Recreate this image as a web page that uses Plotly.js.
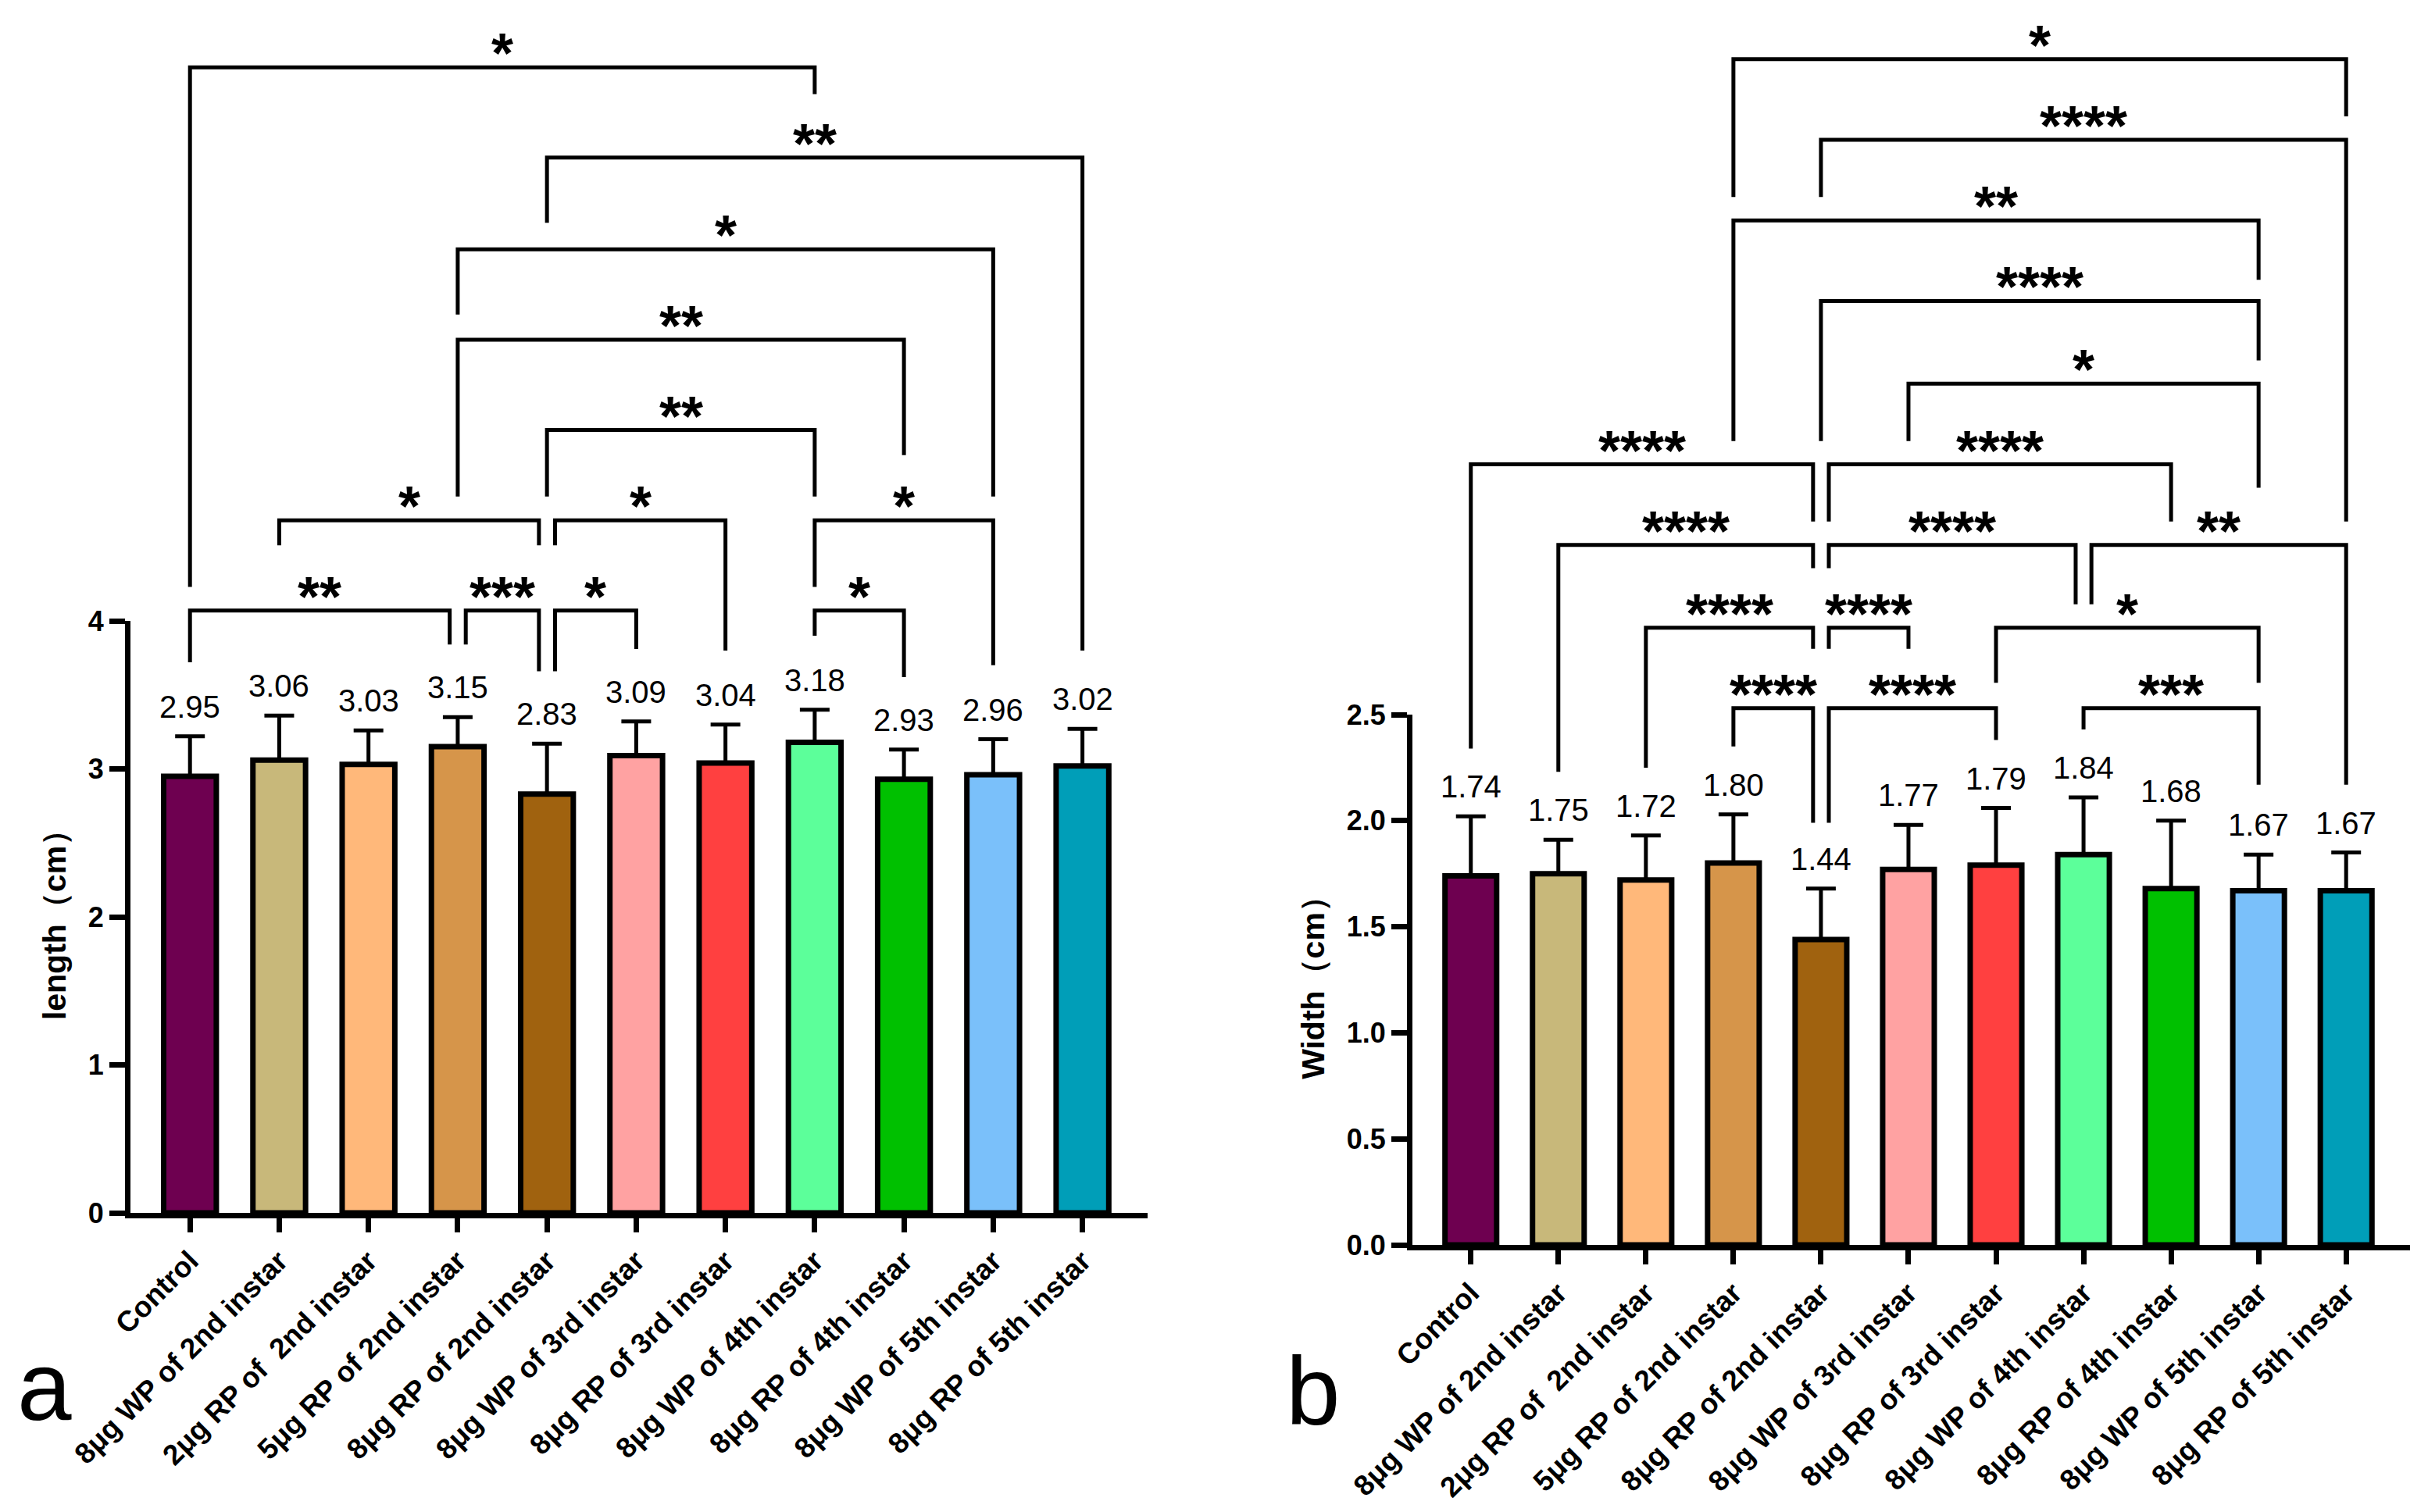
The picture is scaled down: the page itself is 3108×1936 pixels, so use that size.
<!DOCTYPE html>
<html>
<head>
<meta charset="utf-8">
<script src="https://cdn.plot.ly/plotly-3.0.1.min.js"></script>
<style>html,body{margin:0;padding:0;background:#fff;}#chart{width:3108px;height:1936px;}</style>
</head>
<body>
<div id="chart"></div>
<script>
// ---------------- DATA ----------------
const categories = ["Control", "8μg WP of 2nd instar", "2μg RP of\u00a0 2nd instar", "5μg RP of 2nd instar",
  "8μg RP of 2nd instar", "8μg WP of 3rd instar", "8μg RP of 3rd instar", "8μg WP of 4th instar",
  "8μg RP of 4th instar", "8μg WP of 5th instar", "8μg RP of 5th instar"];
const barColors = ["#6e0050", "#c8b87a", "#ffb87a", "#d6954a", "#a0620f", "#ffa2a2",
  "#ff4040", "#5cff9a", "#00c000", "#7ac0fa", "#009eb8"];

const lengthMean = [2.95, 3.06, 3.03, 3.15, 2.83, 3.09, 3.04, 3.18, 2.93, 2.96, 3.02];
const lengthSD   = [0.27, 0.30, 0.23, 0.20, 0.34, 0.23, 0.26, 0.22, 0.20, 0.24, 0.25];
const widthMean  = [1.74, 1.75, 1.72, 1.80, 1.44, 1.77, 1.79, 1.84, 1.68, 1.67, 1.67];
const widthSD    = [0.28, 0.16, 0.21, 0.23, 0.24, 0.21, 0.27, 0.27, 0.32, 0.17, 0.18];

const lengthTicks = [0, 1, 2, 3, 4];
const widthTicks  = [0, 0.5, 1.0, 1.5, 2.0, 2.5];

// significance brackets, panel a (values in length units)
const lengthPairs    = [[0,7],[4,10],[3,9],[3,8],[4,7],[1,4],[4,6],[7,9],[0,3],[3,4],[4,5],[7,8]];
const lengthStars    = ["*","**","*","**","**","*","*","*","**","***","*","*"];
const lengthLineY    = [7.74,7.13,6.51,5.90,5.29,4.68,4.68,4.68,4.07,4.07,4.07,4.07];
const lengthLegLeft  = [4.23,6.69,6.07,4.84,4.84,4.51,4.51,4.23,3.72,3.84,3.66,3.90];
const lengthLegRight = [7.56,3.80,4.84,5.12,4.84,4.51,3.80,3.70,3.84,3.66,3.81,3.62];

// significance brackets, panel b (values in width units)
const widthPairs    = [[3,10],[4,10],[3,9],[4,9],[5,9],[0,4],[4,8],[1,4],[4,7],[7,10],[2,4],[4,5],[6,9],[3,4],[4,6],[7,9]];
const widthStars    = ["*","****","**","****","*","****","****","****","****","**","****","****","*","****","****","***"];
const widthLineY    = [5.59,5.21,4.83,4.45,4.06,3.68,3.68,3.30,3.30,3.30,2.91,2.91,2.91,2.53,2.53,2.53];
const widthLegLeft  = [4.94,4.94,3.79,3.79,3.79,2.34,3.41,2.23,3.19,3.02,2.25,2.81,2.65,2.35,1.99,2.43];
const widthLegRight = [5.32,3.41,4.55,4.17,3.57,3.41,3.41,3.19,3.02,2.17,2.81,2.81,2.65,1.99,2.38,2.17];

// ---------------- LAYOUT GEOMETRY (pixels) ----------------
const W = 3108, H = 1936;
const FONT = "Liberation Sans, Arial, Helvetica, sans-serif";
const geoA = {x0: 167, x1: 1469, yBase: 1553, yTop: 795, top: 4};
const geoB = {x0: 1808, x1: 3085, yBase: 1594, yTop: 915, top: 2.5};
const xRange = [-0.667, 10.73];
const px = v => v / W;
const py = v => 1 - v / H;

const idx = categories.map((c, i) => i);

function bracketGeometry(pairs, lineY, legL, legR) {
  const off = 0.09;
  return pairs.map((p, k) => {
    let a = p[0], b = p[1];
    // shift ends that meet another bracket on the same level
    pairs.forEach((q, m) => {
      if (m === k || lineY[m] !== lineY[k]) return;
      if (q[1] === p[0]) a = p[0] + off;
      if (q[0] === p[1]) b = p[1] - off;
    });
    return {a, b, y: lineY[k], l: legL[k], r: legR[k]};
  });
}

function buildPanel(mean, sd, xa, ya, yb, pairs, stars, lineY, legL, legR) {
  const traces = [];
  traces.push({
    type: "bar", x: idx, y: mean, xaxis: xa, yaxis: ya, width: 0.59,
    marker: {color: barColors, line: {color: "#000", width: 7}},
    error_y: {type: "data", array: sd, arrayminus: sd.map(() => 0), symmetric: false,
      color: "#000", thickness: 5, width: 19},
    hoverinfo: "skip", showlegend: false
  });
  const g = bracketGeometry(pairs, lineY, legL, legR);
  const bx = [], by = [];
  g.forEach(s => { bx.push(s.a, s.a, s.b, s.b, null); by.push(s.l, s.y, s.y, s.r, null); });
  traces.push({
    type: "scatter", mode: "lines", x: bx, y: by, xaxis: xa, yaxis: yb,
    line: {color: "#000", width: 5, shape: "linear"}, cliponaxis: false,
    hoverinfo: "skip", showlegend: false
  });
  const ann = [];
  mean.forEach((m, i) => ann.push({
    x: i, y: m + sd[i], xref: xa, yref: ya, text: m.toFixed(2), showarrow: false,
    yanchor: "bottom", yshift: 14, font: {family: FONT, size: 40, color: "#000"}
  }));
  g.forEach((s, k) => ann.push({
    x: (s.a + s.b) / 2, y: s.y, xref: xa, yref: yb, text: stars[k], showarrow: false,
    yanchor: "bottom", yshift: -24, font: {family: FONT, size: 72, color: "#000", weight: "bold"}
  }));
  return {traces, ann};
}

const A = buildPanel(lengthMean, lengthSD, "x", "y", "y3", lengthPairs, lengthStars, lengthLineY, lengthLegLeft, lengthLegRight);
const B = buildPanel(widthMean, widthSD, "x2", "y2", "y4", widthPairs, widthStars, widthLineY, widthLegLeft, widthLegRight);

const tickFont = {family: FONT, size: 37, color: "#000", weight: "bold"};
function xAxis(geo, anchor) {
  return {
    domain: [px(geo.x0), px(geo.x1)], range: xRange, anchor: anchor, type: "linear",
    tickvals: idx, ticktext: categories, tickangle: -45, tickfont: tickFont,
    showline: true, linecolor: "#000", linewidth: 7, ticks: "outside", ticklen: 18,
    tickwidth: 7, tickcolor: "#000", showgrid: false, zeroline: false, fixedrange: true
  };
}
function yAxis(geo, anchor, ticks, fmt, title) {
  return {
    domain: [py(geo.yBase), py(geo.yTop)], range: [0, geo.top], anchor: anchor,
    tickvals: ticks, tickformat: fmt, tickfont: {family: FONT, size: 36, color: "#000", weight: "bold"},
    showline: true, linecolor: "#000", linewidth: 7, ticks: "outside", ticklen: 20, tickwidth: 7,
    tickcolor: "#000", showgrid: false, zeroline: false, fixedrange: true,
    title: {text: title, font: {family: FONT, size: 41, color: "#000", weight: "bold"}, standoff: 18}
  };
}
function overAxis(geo, anchor) {
  const d0 = py(geo.yBase), d1 = py(geo.yTop);
  return {domain: [d0, 1], range: [0, geo.top * (1 - d0) / (d1 - d0)], anchor: anchor,
    visible: false, fixedrange: true};
}

const panelLabels = [
  {text: "a", x: px(20), y: py(1846)},
  {text: "b", x: px(1644), y: py(1852)}
].map(p => ({x: p.x, y: p.y, xref: "paper", yref: "paper", text: p.text, showarrow: false,
  xanchor: "left", yanchor: "bottom", font: {family: FONT, size: 125, color: "#000"}}));

const layout = {
  width: W, height: H, margin: {l: 0, r: 0, t: 0, b: 0},
  paper_bgcolor: "#fff", plot_bgcolor: "rgba(0,0,0,0)", showlegend: false,
  bargap: 0,
  xaxis: xAxis(geoA, "y"),
  yaxis: yAxis(geoA, "x", lengthTicks, "", "length（cm）"),
  yaxis3: overAxis(geoA, "x"),
  xaxis2: xAxis(geoB, "y2"),
  yaxis2: yAxis(geoB, "x2", widthTicks, ".1f", "Width（cm）"),
  yaxis4: overAxis(geoB, "x2"),
  annotations: A.ann.concat(B.ann, panelLabels)
};

Plotly.newPlot("chart", A.traces.concat(B.traces), layout, {staticPlot: true, displayModeBar: false});
</script>
</body>
</html>
